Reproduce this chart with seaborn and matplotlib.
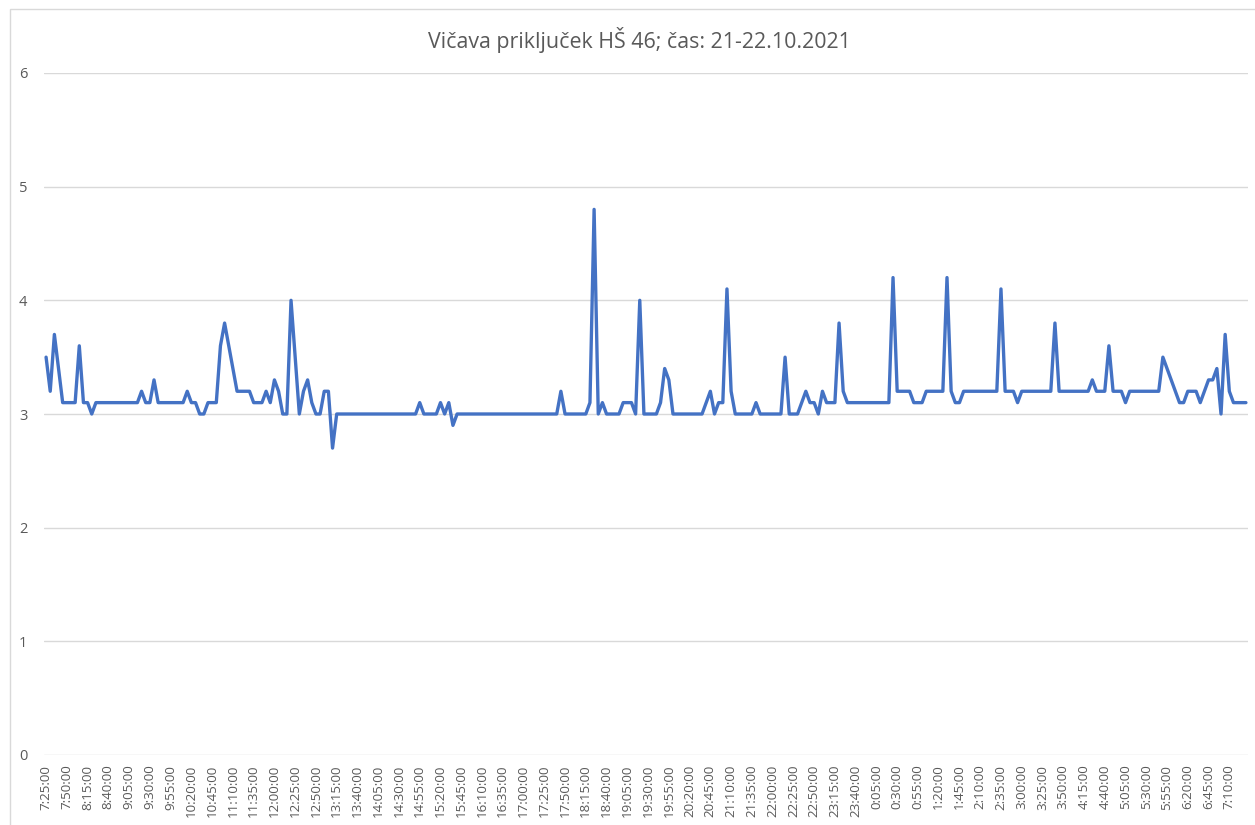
import matplotlib
matplotlib.use("Agg")
import matplotlib.pyplot as plt
import matplotlib.patches as patches
import seaborn as sns
import pandas as pd
import numpy as np

title = "Vičava priključek HŠ 46; čas: 21-22.10.2021"

# meritve vsakih 5 minut od 7:25:00 (21.10.) do 7:30:00 (22.10.)
start_time = "2021-10-21 07:25:00"
step = "5min"

values = [
    3.5, 3.2, 3.7, 3.4, 3.1, 3.1, 3.1, 3.1, 3.6, 3.1,
    3.1, 3.0, 3.1, 3.1, 3.1, 3.1, 3.1, 3.1, 3.1, 3.1,
    3.1, 3.1, 3.1, 3.2, 3.1, 3.1, 3.3, 3.1, 3.1, 3.1,
    3.1, 3.1, 3.1, 3.1, 3.2, 3.1, 3.1, 3.0, 3.0, 3.1,
    3.1, 3.1, 3.6, 3.8, 3.6, 3.4, 3.2, 3.2, 3.2, 3.2,
    3.1, 3.1, 3.1, 3.2, 3.1, 3.3, 3.2, 3.0, 3.0, 4.0,
    3.5, 3.0, 3.2, 3.3, 3.1, 3.0, 3.0, 3.2, 3.2, 2.7,
    3.0, 3.0, 3.0, 3.0, 3.0, 3.0, 3.0, 3.0, 3.0, 3.0,
    3.0, 3.0, 3.0, 3.0, 3.0, 3.0, 3.0, 3.0, 3.0, 3.0,
    3.1, 3.0, 3.0, 3.0, 3.0, 3.1, 3.0, 3.1, 2.9, 3.0,
    3.0, 3.0, 3.0, 3.0, 3.0, 3.0, 3.0, 3.0, 3.0, 3.0,
    3.0, 3.0, 3.0, 3.0, 3.0, 3.0, 3.0, 3.0, 3.0, 3.0,
    3.0, 3.0, 3.0, 3.0, 3.2, 3.0, 3.0, 3.0, 3.0, 3.0,
    3.0, 3.1, 4.8, 3.0, 3.1, 3.0, 3.0, 3.0, 3.0, 3.1,
    3.1, 3.1, 3.0, 4.0, 3.0, 3.0, 3.0, 3.0, 3.1, 3.4,
    3.3, 3.0, 3.0, 3.0, 3.0, 3.0, 3.0, 3.0, 3.0, 3.1,
    3.2, 3.0, 3.1, 3.1, 4.1, 3.2, 3.0, 3.0, 3.0, 3.0,
    3.0, 3.1, 3.0, 3.0, 3.0, 3.0, 3.0, 3.0, 3.5, 3.0,
    3.0, 3.0, 3.1, 3.2, 3.1, 3.1, 3.0, 3.2, 3.1, 3.1,
    3.1, 3.8, 3.2, 3.1, 3.1, 3.1, 3.1, 3.1, 3.1, 3.1,
    3.1, 3.1, 3.1, 3.1, 4.2, 3.2, 3.2, 3.2, 3.2, 3.1,
    3.1, 3.1, 3.2, 3.2, 3.2, 3.2, 3.2, 4.2, 3.2, 3.1,
    3.1, 3.2, 3.2, 3.2, 3.2, 3.2, 3.2, 3.2, 3.2, 3.2,
    4.1, 3.2, 3.2, 3.2, 3.1, 3.2, 3.2, 3.2, 3.2, 3.2,
    3.2, 3.2, 3.2, 3.8, 3.2, 3.2, 3.2, 3.2, 3.2, 3.2,
    3.2, 3.2, 3.3, 3.2, 3.2, 3.2, 3.6, 3.2, 3.2, 3.2,
    3.1, 3.2, 3.2, 3.2, 3.2, 3.2, 3.2, 3.2, 3.2, 3.5,
    3.4, 3.3, 3.2, 3.1, 3.1, 3.2, 3.2, 3.2, 3.1, 3.2,
    3.3, 3.3, 3.4, 3.0, 3.7, 3.2, 3.1, 3.1, 3.1, 3.1,
]

tick_labels = [
    "7:25:00", "7:50:00", "8:15:00", "8:40:00", "9:05:00", "9:30:00",
    "9:55:00", "10:20:00", "10:45:00", "11:10:00", "11:35:00", "12:00:00",
    "12:25:00", "12:50:00", "13:15:00", "13:40:00", "14:05:00", "14:30:00",
    "14:55:00", "15:20:00", "15:45:00", "16:10:00", "16:35:00", "17:00:00",
    "17:25:00", "17:50:00", "18:15:00", "18:40:00", "19:05:00", "19:30:00",
    "19:55:00", "20:20:00", "20:45:00", "21:10:00", "21:35:00", "22:00:00",
    "22:25:00", "22:50:00", "23:15:00", "23:40:00", "0:05:00", "0:30:00",
    "0:55:00", "1:20:00", "1:45:00", "2:10:00", "2:35:00", "3:00:00",
    "3:25:00", "3:50:00", "4:15:00", "4:40:00", "5:05:00", "5:30:00",
    "5:55:00", "6:20:00", "6:45:00", "7:10:00",
]
tick_every = 5
y_ticks = [0, 1, 2, 3, 4, 5, 6]

times = pd.date_range(start_time, periods=len(values), freq=step)
df = pd.DataFrame({"cas": times, "vrednost": values})
df["idx"] = np.arange(len(df))

sns.set_theme(style="white")
plt.rcParams["font.family"] = ["Open Sans", "DejaVu Sans"]

text_col = "#595959"
grid_col = "#D9D9D9"
line_col = "#4472C4"

W, H = 1255, 825
fig = plt.figure(figsize=(W / 100, H / 100), dpi=100)
ax = fig.add_axes([44 / W, 1 - 755 / H, (1248 - 44) / W, (755 - 73) / H])

sns.lineplot(data=df, x="idx", y="vrednost", ax=ax, color=line_col, linewidth=2.4)

ax.set_xlim(-0.5, len(values) - 0.5)
ax.set_ylim(0, 6)
ax.set_yticks(y_ticks)
ax.set_yticklabels([str(v) for v in y_ticks], color=text_col, fontsize=10.5)
ax.set_xticks(df["idx"][::tick_every])
ax.set_xticklabels(tick_labels, rotation=90, color=text_col, fontsize=9.6)
ax.tick_params(axis="both", length=0)
ax.tick_params(axis="y", pad=12)
ax.tick_params(axis="x", pad=7)
ax.grid(axis="y", color=grid_col, linewidth=1)
ax.set_axisbelow(True)
for s in ax.spines.values():
    s.set_visible(False)
ax.set_xlabel("")
ax.set_ylabel("")

fig.text(639 / W, 1 - 40 / H, title, ha="center", va="center", fontsize=15.4, color=text_col)

# okvir grafikona
fig.patches.append(patches.Rectangle((9.5 / W, -0.1), 1.2, 1 - 9.5 / H + 0.1,
                                     transform=fig.transFigure, fill=False,
                                     edgecolor=grid_col, linewidth=1))

fig.savefig("out.png", dpi=100)
